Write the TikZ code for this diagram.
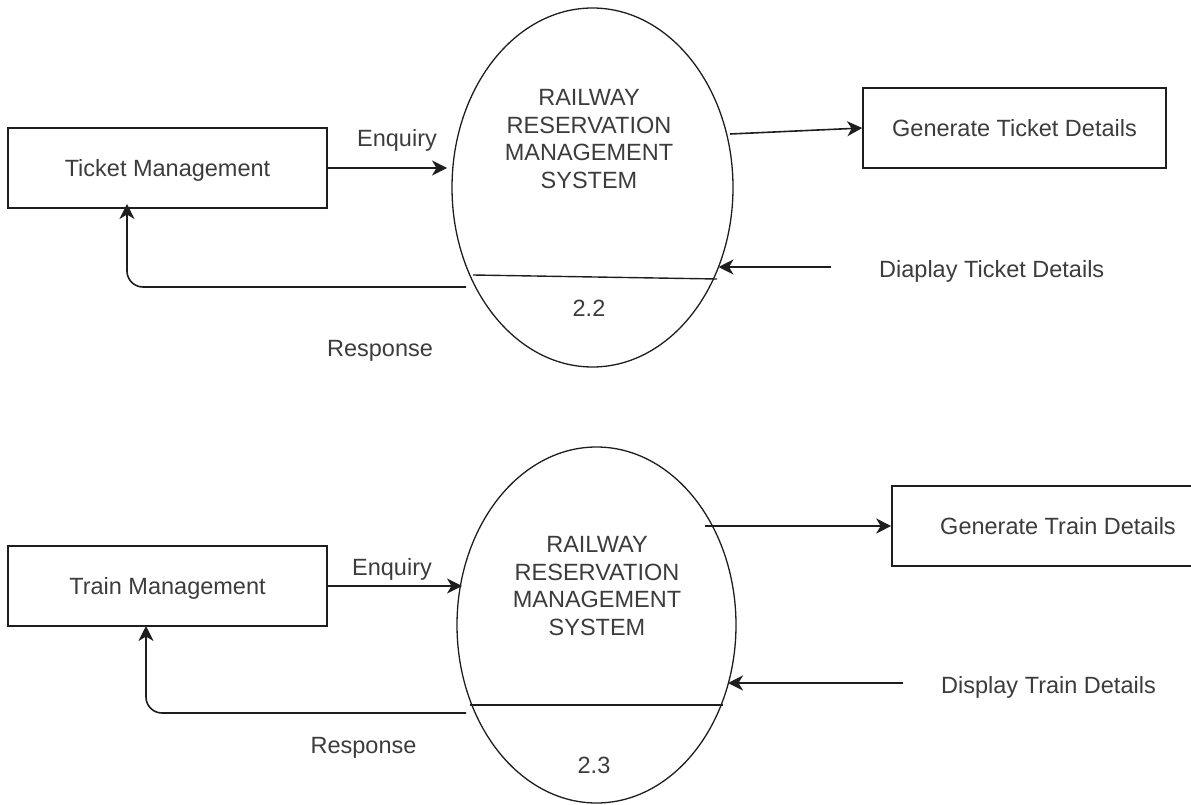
\documentclass[tikz,border=0pt]{standalone}
\usepackage{fontspec}
\setmainfont{Liberation Sans}
\usetikzlibrary{arrows.meta,shapes.geometric}
\definecolor{ink}{RGB}{30,30,30}
\definecolor{txtc}{RGB}{60,60,60}
\begin{document}
\begin{tikzpicture}[x=1pt,y=-1pt,
  lbl/.style={font=\fontsize{23.5}{27.7}\selectfont, text=txtc, inner sep=0pt},
  boxnode/.style={draw=ink, line width=1.6pt, font=\fontsize{23.5}{27.7}\selectfont, text=txtc, text height=17pt, text depth=0pt, inner sep=0pt},
  procnode/.style={draw=ink, line width=1.3pt, ellipse, inner sep=0pt},
  divline/.style={draw=ink, line width=1.4pt},
  flow/.style={draw=ink, line width=1.6pt, -{Stealth[length=15pt,width=15pt,inset=4.5pt]}},
]
\useasboundingbox (0,0) rectangle (1191,805);

% ---------- top diagram ----------
\node[boxnode, minimum width=319pt, minimum height=80pt] (tm) at (167.5,168) {Ticket Management};
\node[procnode, minimum width=281pt, minimum height=359pt] (e1) at (592.5,187.5) {};
\node[lbl, align=center, anchor=center] (e1t) at (589,139) {RAILWAY\\RESERVATION\\MANAGEMENT\\SYSTEM};
\coordinate (e1dl) at (473,275);
\coordinate (e1dr) at (717,279);
\draw[divline] (e1dl) -- (e1dr);
\node[lbl, anchor=base] (e1n) at (589,316) {2.2};
\node[boxnode, minimum width=303pt, minimum height=80pt] (gtd) at (1014.5,128) {Generate Ticket Details};

\coordinate (enq1tip) at (447,168);
\draw[flow] (tm.east) -- (enq1tip);
\node[lbl, anchor=base] (enq1) at (397,147) {Enquiry};

\coordinate (res1s) at (466,287);
\coordinate (res1t) at (127,204);
\draw[flow, rounded corners=16pt] (res1s) -| (res1t);
\node[lbl, anchor=base] (res1) at (380,356) {Response};

\coordinate (out1s) at (730,134);
\draw[flow] (out1s) -- (gtd.west);

\coordinate (dis1s) at (831,267);
\coordinate (dis1t) at (718.5,267);
\draw[flow] (dis1s) -- (dis1t);
\node[lbl, anchor=base west] (dis1) at (879,277) {Diaplay Ticket Details};

% ---------- bottom diagram ----------
\node[boxnode, minimum width=319pt, minimum height=80pt] (trm) at (167.5,586) {Train Management};
\node[procnode, minimum width=279pt, minimum height=356pt] (e2) at (596.5,625) {};
\node[lbl, align=center, anchor=center] (e2t) at (597,586) {RAILWAY\\RESERVATION\\MANAGEMENT\\SYSTEM};
\coordinate (e2dl) at (470,705);
\coordinate (e2dr) at (723,705);
\draw[divline] (e2dl) -- (e2dr);
\node[lbl, anchor=base] (e2n) at (594,773) {2.3};
\node[boxnode, minimum width=332pt, minimum height=80pt] (gtr) at (1058,526) {Generate Train Details};

\coordinate (enq2tip) at (462,586);
\draw[flow] (trm.east) -- (enq2tip);
\node[lbl, anchor=base] (enq2) at (392,575) {Enquiry};

\coordinate (res2s) at (466,713);
\coordinate (res2t) at (146,626);
\draw[flow, rounded corners=16pt] (res2s) -| (res2t);
\node[lbl, anchor=base] (res2) at (363.5,753) {Response};

\coordinate (out2s) at (705,526);
\draw[flow] (out2s) -- (gtr.west);

\coordinate (dis2s) at (903,683);
\coordinate (dis2t) at (728,683);
\draw[flow] (dis2s) -- (dis2t);
\node[lbl, anchor=base west] (dis2) at (941,693) {Display Train Details};
\end{tikzpicture}
\end{document}
